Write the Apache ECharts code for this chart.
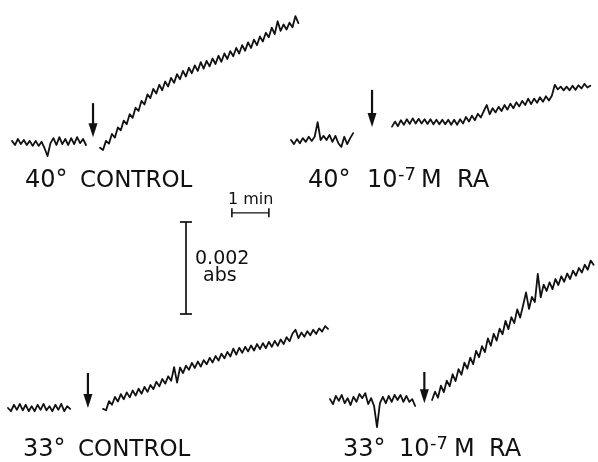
<!DOCTYPE html>
<html><head><meta charset="utf-8">
<script src="https://cdn.jsdelivr.net/npm/echarts@6/dist/echarts.min.js"></script>
<style>html,body{margin:0;padding:0;background:#fff}#c{width:598px;height:462px}</style>
</head><body><div id="c"></div>
<script>
// sampling step of the recorder traces (min)
const DT = 0.08;

// Trace values in mA (0.001 abs), relative to each panel's own baseline
// 40° CONTROL
const c40PreStart = 0;
const c40Pre = [0.09,0,0.13,0.02,0.11,0,0.09,-0.02,0.09,-0.02,0.07,-0.07,-0.24,0.04,0.15,0,0.17,0.02,0.13,0,0.15,0.02,0.17,0.04,0.13,0];
const c40PostStart = 2.38;
const c40Post = [-0.06,-0.11,0.09,0.03,0.24,0.16,0.38,0.32,0.53,0.45,
  0.67,0.59,0.81,0.74,0.96,0.88,1.10,1.02,1.22,1.12,
  1.31,1.19,1.38,1.27,1.46,1.35,1.54,1.43,1.61,1.49,
  1.68,1.56,1.73,1.61,1.80,1.66,1.83,1.71,1.88,1.76,
  1.94,1.81,1.99,1.87,2.04,1.93,2.11,1.99,2.17,2.05,
  2.23,2.11,2.29,2.17,2.36,2.25,2.44,2.34,2.55,2.41,
  2.69,2.48,2.62,2.51,2.66,2.56,2.80,2.65];
const c40Arrow = [2.19, 0.91, 0.17];

// 40° 10^-7 M RA
const r40PreStart = 0;
const r40Pre = [0,-0.09,0.02,-0.07,0.04,-0.04,0.07,-0.02,0.07,0.39,0,0.09,0,0.11,-0.04,0.09,-0.07,-0.15,0.07,-0.09,0.04,0.15];
const r40PostStart = 2.73;
const r40Post = [0.29,0.40,0.30,0.43,0.33,0.45,0.35,0.47,0.36,0.46,
  0.36,0.45,0.35,0.45,0.34,0.44,0.34,0.44,0.34,0.44,
  0.33,0.44,0.33,0.45,0.36,0.50,0.40,0.53,0.43,0.57,
  0.49,0.63,0.76,0.56,0.69,0.60,0.72,0.63,0.76,0.66,
  0.79,0.69,0.82,0.73,0.85,0.76,0.90,0.78,0.90,0.81,
  0.93,0.83,0.95,0.86,0.96,1.20,1.10,1.16,1.08,1.16,
  1.08,1.18,1.09,1.19,1.12,1.22,1.14,1.18];
const r40Arrow = [2.19, 1.09, 0.28];

// 33° CONTROL
const c33PreStart = 0;
const c33Pre = [0,-0.07,0.07,-0.04,0.09,-0.05,0.07,-0.07,0.04,-0.07,0.07,-0.04,0.09,-0.05,0.04,-0.07,0.07,-0.04,0.09,-0.07,0.04,-0.02];
const c33PostStart = 2.57;
const c33Post = [-0.02,-0.05,0.15,0.07,0.24,0.14,0.30,0.19,0.34,0.23,
  0.38,0.27,0.42,0.31,0.46,0.35,0.50,0.41,0.57,0.47,
  0.63,0.53,0.69,0.59,0.89,0.55,0.88,0.76,0.92,0.83,
  0.98,0.87,1.01,0.90,1.04,0.95,1.09,0.99,1.13,1.03,
  1.18,1.08,1.22,1.12,1.29,1.16,1.31,1.20,1.33,1.23,
  1.36,1.25,1.39,1.28,1.41,1.30,1.44,1.33,1.46,1.35,
  1.49,1.39,1.54,1.45,1.62,1.70,1.52,1.64,1.55,1.67,
  1.58,1.70,1.61,1.73,1.66,1.78,1.72];
const c33Arrow = [2.16, 0.76, 0.0];

// 33° 10^-7 M RA
const r33PreStart = 0;
const r33Pre = [0.02,-0.09,0.09,-0.02,0.11,-0.07,0.04,-0.11,0.07,-0.04,0.13,0.04,0.15,-0.09,0.04,-0.13,-0.59,-0.07,0.07,-0.07,0.09,-0.04,0.11,0,0.11,-0.04,0.09,-0.04,0.02,-0.13];
const r33PostStart = 2.78;
const r33Post = [0,0.18,0.05,0.31,0.17,0.42,0.30,0.56,0.41,0.67,
  0.55,0.81,0.68,0.92,0.78,1.07,0.93,1.17,1.04,1.34,
  1.18,1.44,1.29,1.55,1.43,1.72,1.54,1.80,1.67,1.97,
  1.79,2.06,2.34,1.98,2.24,2.13,2.74,2.23,2.51,2.37,
  2.56,2.41,2.63,2.50,2.69,2.57,2.75,2.63,2.81,2.70,
  2.87,2.77,2.94,2.83,3.03,2.94];
const r33Arrow = [2.57, 0.61, -0.07];

// scale bars: 0.002 abs (= 2 mA) and 1 min
const absBar = [0, 0, 2];        // [t, from mA, to mA]
const minBar = [1.24, 2.24, 2.2]; // [from min, to min, at mA]
const absBarLabel = ['0.002', 'abs'];
const minBarLabel = '1 min';

// ---------- layout ----------
const PX_PER_MIN = 37, PX_PER_MA = 46;
const INK = '#111';
const panels = [
  {x0: 12,  y0: 145, xr: [0, 7.9], yr: [-0.6, 3.0]},
  {x0: 291, y0: 140, xr: [0, 8.2], yr: [-0.6, 2.0]},
  {x0: 8,   y0: 408, xr: [0, 8.7], yr: [-0.6, 2.5]},
  {x0: 330, y0: 400, xr: [0, 7.3], yr: [-1.0, 3.5]},
  {x0: 186, y0: 314, xr: [-0.5, 2.5], yr: [-0.3, 2.6]}
];
const grids = panels.map(p => ({
  left: p.x0 + p.xr[0] * PX_PER_MIN,
  top: p.y0 - p.yr[1] * PX_PER_MA,
  width: (p.xr[1] - p.xr[0]) * PX_PER_MIN,
  height: (p.yr[1] - p.yr[0]) * PX_PER_MA
}));
const xAxis = panels.map((p, i) => ({type: 'value', gridIndex: i, min: p.xr[0], max: p.xr[1], show: false}));
const yAxis = panels.map((p, i) => ({type: 'value', gridIndex: i, min: p.yr[0], max: p.yr[1], show: false}));

function seg(start, vals) { return vals.map((v, i) => [+(start + i * DT).toFixed(3), v]); }
function trace(idx, start, vals) {
  return {type: 'line', xAxisIndex: idx, yAxisIndex: idx, data: seg(start, vals), symbol: 'none',
    clip: false, silent: true, lineStyle: {color: INK, width: 1.8, join: 'round', cap: 'round'}, z: 2};
}
function arrow(idx, a) {
  return {type: 'custom', xAxisIndex: idx, yAxisIndex: idx, data: [a], clip: false, silent: true,
    encode: {x: 0, y: [1, 2]},
    renderItem: (params, api) => {
      const t = api.value(0), p = api.coord([t, api.value(1)]), q = api.coord([t, api.value(2)]);
      const hl = 14, hw = 4.5;
      return {type: 'group', children: [
        {type: 'line', shape: {x1: p[0], y1: p[1], x2: q[0], y2: q[1] - hl + 2}, style: {stroke: INK, lineWidth: 2.2}},
        {type: 'polygon', shape: {points: [[q[0] - hw, q[1] - hl], [q[0] + hw, q[1] - hl], [q[0], q[1]]]}, style: {fill: INK}}
      ]};
    }};
}
const scaleSeries = [
  {type: 'custom', xAxisIndex: 4, yAxisIndex: 4, data: [absBar], clip: false, silent: true, encode: {x: 0, y: [1, 2]},
    renderItem: (params, api) => {
      const t = api.value(0), p = api.coord([t, api.value(1)]), q = api.coord([t, api.value(2)]);
      const cw = 6;
      return {type: 'group', children: [
        {type: 'line', shape: {x1: p[0], y1: p[1], x2: q[0], y2: q[1]}, style: {stroke: INK, lineWidth: 1.7}},
        {type: 'line', shape: {x1: p[0] - cw, y1: p[1], x2: p[0] + cw, y2: p[1]}, style: {stroke: INK, lineWidth: 1.7}},
        {type: 'line', shape: {x1: q[0] - cw, y1: q[1], x2: q[0] + cw, y2: q[1]}, style: {stroke: INK, lineWidth: 1.7}}
      ]};
    }},
  {type: 'custom', xAxisIndex: 4, yAxisIndex: 4, data: [minBar], clip: false, silent: true, encode: {x: [0, 1], y: 2},
    renderItem: (params, api) => {
      const a = api.value(2), p = api.coord([api.value(0), a]), q = api.coord([api.value(1), a]);
      const ch = 4.5;
      return {type: 'group', children: [
        {type: 'line', shape: {x1: p[0], y1: p[1], x2: q[0], y2: q[1]}, style: {stroke: INK, lineWidth: 1.3}},
        {type: 'line', shape: {x1: p[0], y1: p[1] - ch, x2: p[0], y2: p[1] + ch}, style: {stroke: INK, lineWidth: 1.6}},
        {type: 'line', shape: {x1: q[0], y1: q[1] - ch, x2: q[0], y2: q[1] + ch}, style: {stroke: INK, lineWidth: 1.6}}
      ]};
    }}
];

const FONT = '"DejaVu Sans", sans-serif';
function txt(x, y, s, size) {
  return {type: 'text', left: x, top: y, silent: true,
    style: {text: s, fill: INK, font: size + 'px ' + FONT}};
}
const graphic = [
  txt(25, 169, '40°', 24), txt(80, 170, 'CONTROL', 23),
  txt(308, 169, '40°', 24), txt(367, 169, '10', 24), txt(398, 166, '-7', 18), txt(421, 169, 'M', 24), txt(457, 169, 'RA', 24),
  txt(23, 438, '33°', 24), txt(78, 439, 'CONTROL', 23),
  txt(343, 438, '33°', 24), txt(399, 438, '10', 24), txt(430, 435, '-7', 18), txt(454, 438, 'M', 24), txt(489, 438, 'RA', 24),
  txt(228, 192, minBarLabel, 16),
  txt(195, 250, absBarLabel[0], 19), txt(203, 267, absBarLabel[1], 19)
];

const series = [
  trace(0, c40PreStart, c40Pre), trace(0, c40PostStart, c40Post), arrow(0, c40Arrow),
  trace(1, r40PreStart, r40Pre), trace(1, r40PostStart, r40Post), arrow(1, r40Arrow),
  trace(2, c33PreStart, c33Pre), trace(2, c33PostStart, c33Post), arrow(2, c33Arrow),
  trace(3, r33PreStart, r33Pre), trace(3, r33PostStart, r33Post), arrow(3, r33Arrow),
  ...scaleSeries
];

const chart = echarts.init(document.getElementById('c'), null, {renderer: 'canvas'});
chart.setOption({animation: false, backgroundColor: '#fff', grid: grids, xAxis, yAxis, series, graphic});
</script></body></html>
